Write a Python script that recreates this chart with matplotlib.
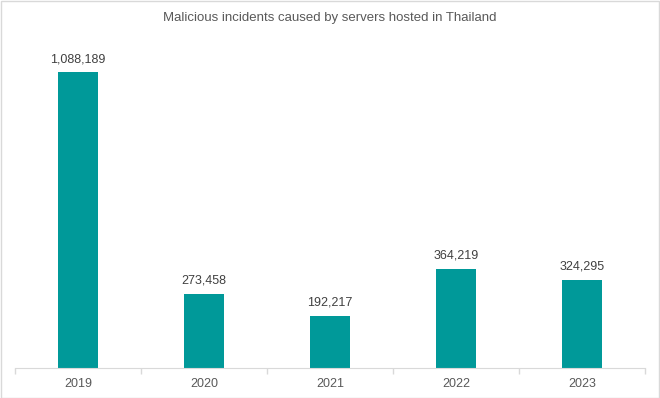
import matplotlib
matplotlib.use("Agg")
import matplotlib.pyplot as plt
from matplotlib.patches import Rectangle

years = ["2019", "2020", "2021", "2022", "2023"]
incidents = [1088189, 273458, 192217, 364219, 324295]
title = "Malicious incidents caused by servers hosted in Thailand"

plt.rcParams['font.family'] = ['Liberation Sans', 'DejaVu Sans']

W, H = 660, 398
fig = plt.figure(figsize=(W/100, H/100), dpi=100)
ax = fig.add_axes([15/W, 30/H, 630/W, (368-41.6)/H])

x = list(range(len(years)))
ax.bar(x, incidents, width=0.32, color="#009999", zorder=2)
for xi, v in zip(x, incidents):
    ax.annotate(f"{v:,}", (xi, v), xytext=(0, 5), textcoords="offset points",
                ha="center", va="bottom", fontsize=9, color="#404040")

ax.set_xlim(-0.5, len(years) - 0.5)
ax.set_ylim(0, 1200000)
ax.set_yticks([])
ax.set_xticks(x)
ax.set_xticklabels(years, fontsize=9, color="#595959")
ax.tick_params(axis="x", which="major", length=0, pad=7)
ax.set_xticks([i - 0.5 for i in range(len(years) + 1)], minor=True)
ax.tick_params(axis="x", which="minor", length=4, color="#d9d9d9", width=1)
for s in ["top", "left", "right"]:
    ax.spines[s].set_visible(False)
ax.spines["bottom"].set_color("#d9d9d9")

fig.text(0.5, 1 - 18/H, title, ha="center", va="center", fontsize=9.5, color="#595959")
fig.patches.append(Rectangle((0.5/W, 0.5/H), 1 - 1.5/W, 1 - 1.5/H, transform=fig.transFigure,
                             fill=False, edgecolor="#d9d9d9", linewidth=1))
fig.savefig("out.png", dpi=100)
